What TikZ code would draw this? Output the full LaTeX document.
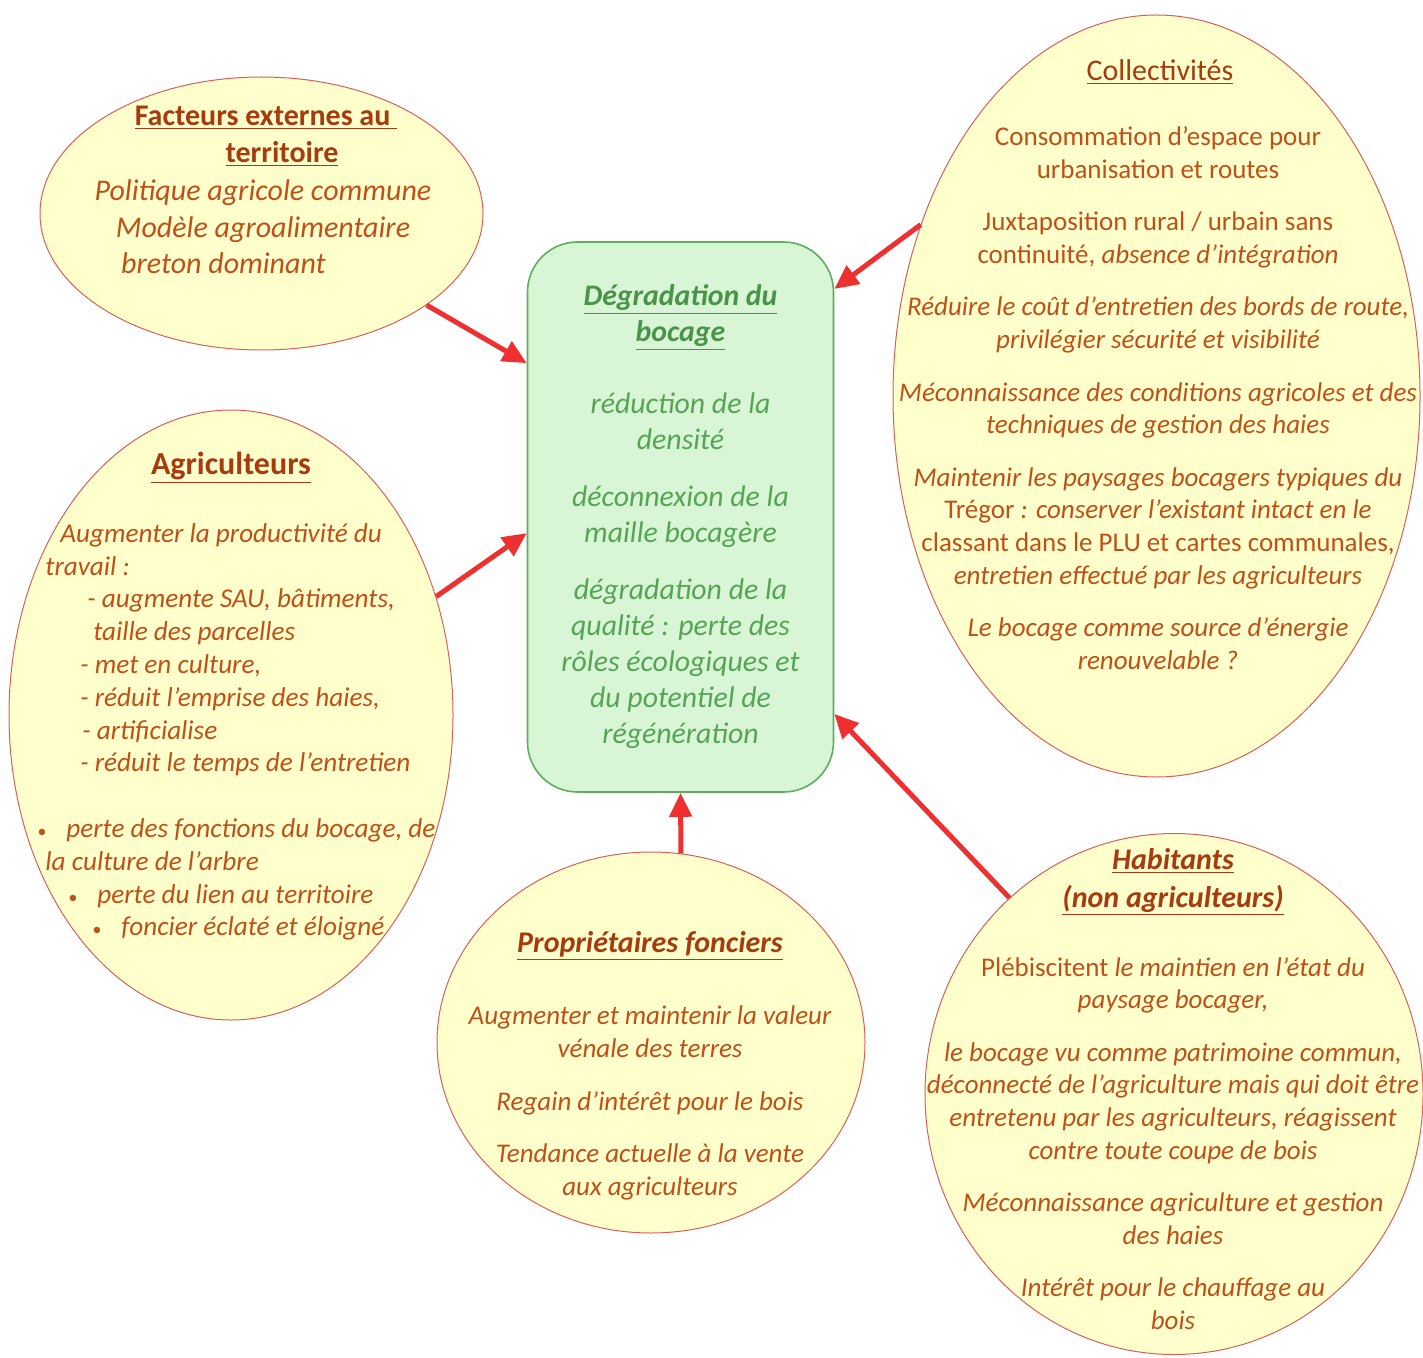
\documentclass[tikz,border=0pt]{standalone}
\usepackage{fontspec}
\setmainfont{Carlito}
\usetikzlibrary{shapes.geometric,arrows.meta}

\definecolor{byellow}{HTML}{FFFFCC}
\definecolor{bline}{HTML}{D8605A}
\definecolor{btext}{HTML}{C0501A}
\definecolor{btitle}{HTML}{A83A10}
\definecolor{gfill}{HTML}{D8F5D6}
\definecolor{gline}{HTML}{5DAE5D}
\definecolor{gtext}{HTML}{55A555}
\definecolor{gtitle}{HTML}{4A944A}
\definecolor{rarrow}{HTML}{EE3030}

\begin{document}
\begin{tikzpicture}[x=0.5pt,y=-0.5pt,
  actor/.style={ellipse,draw=bline,line width=0.5pt,fill=byellow,inner sep=0pt},
  actortitle/.style={text=btitle,font=\fontsize{15}{18.5}\selectfont\bfseries,align=center,inner sep=0pt},
  actortext/.style={text=btext,font=\fontsize{13.5}{16.3}\selectfont\itshape,align=center,inner sep=0pt},
  effect/.style={draw=gline,line width=0.8pt,fill=gfill,rounded corners=25pt,inner sep=0pt,
    text=gtext,align=center,font=\fontsize{14.9}{18}\selectfont\itshape},
  push/.style={draw=rarrow,line width=2.5pt,-{Triangle[length=12pt,width=11pt]}}]
  \useasboundingbox (0,0) rectangle (1423,1358);

  % the actors round the centre
  \node[actor,minimum width=221.5pt,minimum height=136.5pt] (fac) at (261.5,213.5) {};
  \node[actor,minimum width=222pt,minimum height=305pt] (agr) at (231,715) {};
  \node[actor,minimum width=263.5pt,minimum height=381pt] (col) at (1156.5,396) {};
  \node[actor,minimum width=214pt,minimum height=190.5pt] (pro) at (651,1042.5) {};
  \node[actor,minimum width=249pt,minimum height=260.5pt] (hab) at (1174,1094) {};

  \node[effect,minimum width=153pt,minimum height=275pt] (deg) at (680.5,517)
    {\textcolor{gtitle}{\textbf{\underline{Dégradation du}}}\\
     \textcolor{gtitle}{\textbf{\underline{bocage}}}\\[18pt]
     réduction de la\\densité\\[10.5pt]
     déconnexion de la\\maille bocagère\\[10.5pt]
     dégradation de la\\qualité : perte des\\rôles écologiques et\\du potentiel de\\régénération};

  % texts
  \node[actortitle] (fac-title) at (266,136.5)
    {\underline{Facteurs externes au\ }\\\hspace*{16pt}\underline{territoire}};
  \node[actortext,font=\fontsize{15}{18.2}\selectfont\itshape] (fac-txt) at (263,227)
    {Politique agricole commune\\Modèle agroalimentaire\\breton dominant\hspace*{39.5pt}};

  \node[actortitle,font=\fontsize{16}{18.5}\selectfont\bfseries] (agr-title) at (231,468) {\underline{Agriculteurs}};
  \node[actortext,font=\fontsize{13.6}{16.4}\selectfont\itshape,align=left,anchor=west] (agr-txt) at (37,732)
    {\hspace*{11.5pt}Augmenter la productivité du\\
     \hspace*{4pt}travail :\\
     \hspace*{25pt}- augmente SAU, bâtiments,\\
     \hspace*{28pt}taille des parcelles\\
     \hspace*{21.5pt}- met en culture,\\
     \hspace*{21.5pt}- réduit l’emprise des haies,\\
     \hspace*{22.5pt}- artificialise\\
     \hspace*{21.5pt}- réduit le temps de l’entretien\\[16.4pt]
     {\small\textbullet}\hspace{10pt}perte des fonctions du bocage, de\\
     \hspace*{4pt}la culture de l’arbre\\
     \hspace*{15.5pt}{\small\textbullet}\hspace{10pt}perte du lien au territoire\\
     \hspace*{27.5pt}{\small\textbullet}\hspace{10pt}foncier éclaté et éloigné};

  \node[actortitle,font=\fontsize{15}{18.5}\selectfont] (col-title) at (1160,72) {\underline{Collectivités}};
  \node[actortext] (col-txt) at (1158,398)
    {\upshape Consommation d’espace pour\\\upshape urbanisation et routes\\[10pt]
     \upshape Juxtaposition rural / urbain sans\\\upshape continuité, \itshape absence d’intégration\\[10pt]
     Réduire le coût d’entretien des bords de route,\\privilégier sécurité et visibilité\\[10pt]
     Méconnaissance des conditions agricoles et des\\techniques de gestion des haies\\[10pt]
     Maintenir les paysages bocagers typiques du\\\textup{Trégor} : conserver l’existant intact en le\\
     \upshape classant dans le PLU et cartes communales,\\entretien effectué par les agriculteurs\\[10pt]
     Le bocage comme source d’énergie\\renouvelable ?};

  \node[actortitle,font=\fontsize{15}{18.5}\selectfont\bfseries\itshape] (pro-title) at (650,946) {\underline{Propriétaires fonciers}};
  \node[actortext] (pro-txt) at (650,1103)
    {Augmenter et maintenir la valeur\\vénale des terres\\[10pt]
     Regain d’intérêt pour le bois\\[10pt]
     Tendance actuelle à la vente\\aux agriculteurs};

  \node[actortitle,font=\fontsize{15}{19}\selectfont\bfseries\itshape] (hab-title) at (1173,882)
    {\underline{Habitants}\\\underline{(non agriculteurs)}};
  \node[actortext] (hab-txt) at (1173,1143.5)
    {\textup{Plébiscitent} le maintien en l’état du\\paysage bocager,\\[10pt]
     le bocage vu comme patrimoine commun,\\déconnecté de l’agriculture mais qui doit être\\
     entretenu par les agriculteurs, réagissent\\contre toute coupe de bois\\[10pt]
     Méconnaissance agriculture et gestion\\des haies\\[10pt]
     Intérêt pour le chauffage au\\bois};

  % influences
  \draw[push] (fac.-29) -- (deg.135);
  \draw[push] (agr.30.5) -- (deg.186.7);
  \draw[push] (col.144) -- (deg.56);
  \draw[push] (pro.81) -- (deg.south);
  \draw[push] (hab.130) -- (deg.-52.4);
\end{tikzpicture}
\end{document}
